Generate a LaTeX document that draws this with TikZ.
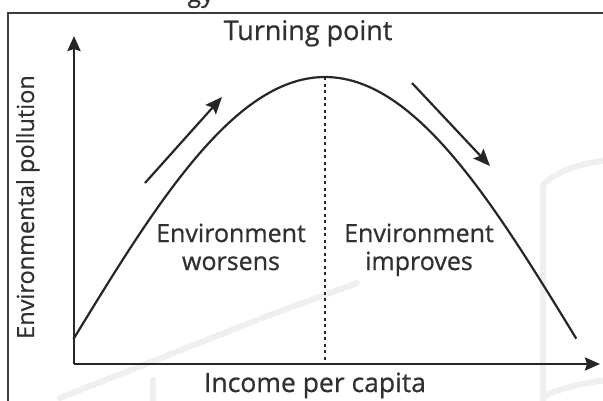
\documentclass[tikz,border=0pt]{standalone}
\usepackage{fontspec}
\setmainfont{Open Sans}
\newfontfamily\labfont[FakeBold=0.7]{Open Sans}
\usetikzlibrary{arrows.meta}
\definecolor{ink}{HTML}{262626}
\definecolor{txt}{HTML}{303030}
\definecolor{wm}{HTML}{EFEFEF}
\tikzset{
  axis/.style={draw=ink, line width=2.5pt, -{Stealth[length=15pt,width=13pt,inset=2pt]}},
  trend/.style={draw=ink, line width=2.2pt, -{Stealth[length=17pt,width=14pt,inset=3pt]}},
  curve/.style={draw=ink, line width=2.2pt},
  lbl/.style={text=txt, inner sep=0pt, font=\labfont\fontsize{25}{30}\selectfont},
  wmark/.style={draw=wm, line width=6pt, line cap=round},
}
\begin{document}
\begin{tikzpicture}[x=1pt,y=-1pt]
\useasboundingbox (0,0) rectangle (603,400);
% faint watermark strokes
\draw[wmark] (60,398) -- (257,320);
\draw[wmark] (262,318) -- (357,283);
\draw[wmark] (153,380) -- (153,410);
\draw[wmark] (543,410) -- (543,185) .. controls (560,168) and (585,163) .. (610,160);
\draw[wmark] (543,397) .. controls (560,388) and (585,382) .. (610,380);
% frame
\draw[draw=ink!90, line width=2pt] (8,13) rectangle (615,415);
% cropped title
\node[lbl, anchor=base east] (title) at (214,2) {gy};
% coordinates
\coordinate (O) at (74,364);
\coordinate (ytip) at (74,36);
\coordinate (xtip) at (600,364);
\coordinate (peak) at (325,77);
\coordinate (base) at (325,364);
\coordinate (u1) at (145,183);
\coordinate (u2) at (222,97);
\coordinate (d1) at (412,83);
\coordinate (d2) at (490,166);
% axes
\draw[axis] (O) -- (ytip);
\draw[axis] (O) -- (xtip);
% curve
\draw[curve] plot[domain=-1:1, samples=120, smooth] ({325+251.5*\x},{77+262*(1-cos(90*\x))});
% dotted line
\draw[draw=ink, line width=2pt, dash pattern=on 3pt off 3.5pt] (peak) -- (base);
% trend arrows
\draw[trend] (u1) -- (u2);
\draw[trend] (d1) -- (d2);
% labels
\node[lbl, anchor=base, font=\labfont\fontsize{27}{32}\selectfont] (tp) at (308,40) {Turning point};
\node[lbl, anchor=base, rotate=90, font=\labfont\fontsize{23.5}{28}\selectfont] (ylab) at (34,207) {Environmental pollution};
\node[lbl, anchor=base, font=\labfont\fontsize{26.5}{32}\selectfont] (xlab) at (315,392) {Income per capita};
\node[lbl, anchor=base] (w1) at (231,242) {Environment};
\node[lbl, anchor=base] (w2) at (231,270) {worsens};
\node[lbl, anchor=base] (i1) at (419,242) {Environment};
\node[lbl, anchor=base] (i2) at (419,270) {improves};
\end{tikzpicture}
\end{document}
